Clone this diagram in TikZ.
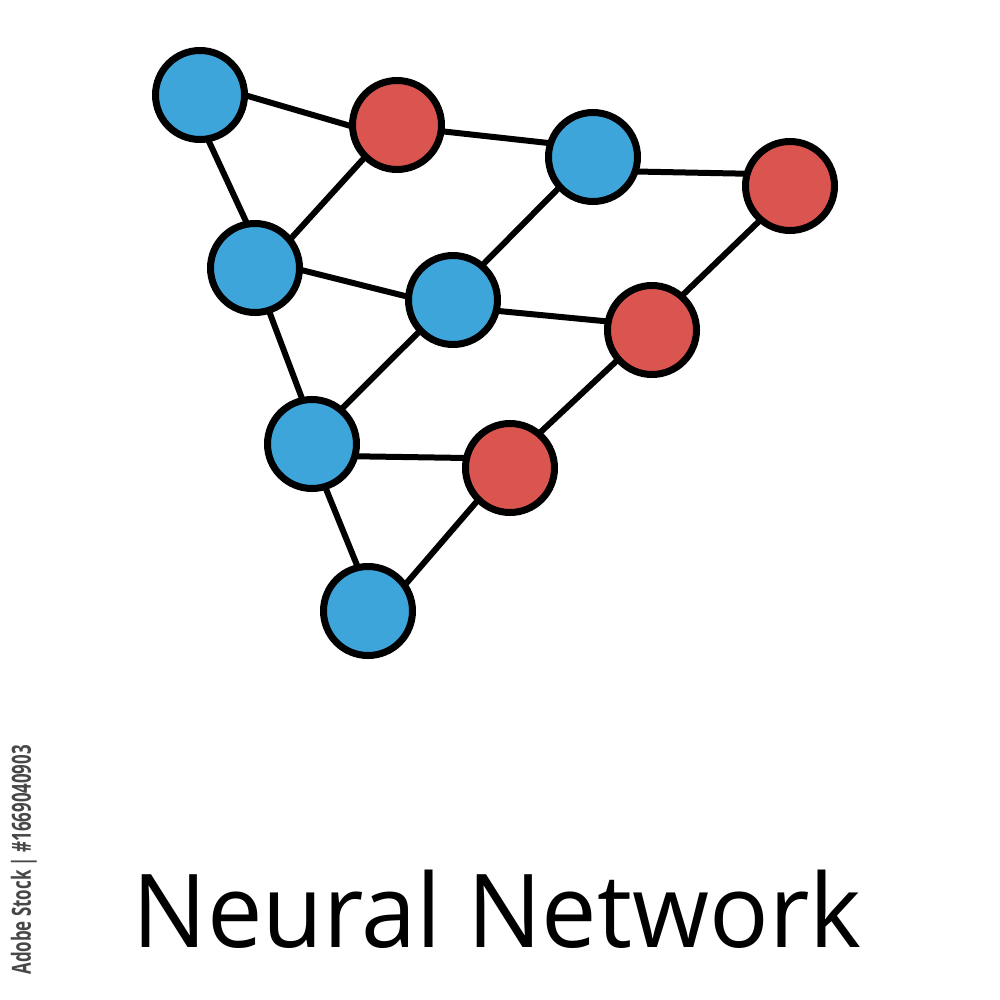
\documentclass[tikz,border=0pt]{standalone}
\usepackage{fontspec}
\setmainfont{Open Sans}
\definecolor{nblue}{HTML}{3EA5DA}
\definecolor{nred}{HTML}{DB5550}
\begin{document}
\begin{tikzpicture}[x=0.01cm,y=-0.01cm,
  neuron/.style={circle,draw=black,line width=7*0.01cm,minimum size=89*0.01cm,inner sep=0pt,outer sep=0pt},
  bn/.style={neuron,fill=nblue},
  rn/.style={neuron,fill=nred},
  link/.style={line width=6*0.01cm,black}]
\useasboundingbox (0,0) rectangle (1000,1000);
\node[bn] (b1) at (200,95) {};
\node[rn] (r1) at (397,125) {};
\node[bn] (b3) at (593,157) {};
\node[rn] (r2) at (790,186) {};
\node[bn] (b2) at (255,268) {};
\node[bn] (b4) at (453,300) {};
\node[rn] (r3) at (652,330) {};
\node[bn] (b5) at (312,444) {};
\node[rn] (r4) at (510,468) {};
\node[bn] (b6) at (368,611) {};
\draw[link] (b1.0) -- (r1.182);
\draw[link] (b1.-80) -- (b2.100);
\draw[link] (r1.-135) -- (b2.39);
\draw[link] (r1.-8) -- (b3.162);
\draw[link] (b3.-19) -- (r2.164);
\draw[link] (b3.-138) -- (b4.50);
\draw[link] (b2.-2) -- (b4.176);
\draw[link] (b4.-14) -- (r3.169);
\draw[link] (r2.-131) -- (r3.49);
\draw[link] (b2.-72) -- (b5.102);
\draw[link] (b4.-137) -- (b5.50);
\draw[link] (b5.-16) -- (r4.167);
\draw[link] (r3.-139) -- (r4.50);
\draw[link] (b5.-73) -- (b6.103);
\draw[link] (r4.-135) -- (b6.35);
\node[anchor=base,inner sep=0pt,font=\fontsize{29}{30}\selectfont,xscale=0.97] (title) at (497,947) {Neural Network};
\node[anchor=base west,rotate=90,xscale=0.64,inner sep=0pt,font=\bfseries\fontsize{7.5}{8}\selectfont,text=black!72] (stamp) at (31,975) {Adobe Stock | \#1669040903};
\end{tikzpicture}
\end{document}
